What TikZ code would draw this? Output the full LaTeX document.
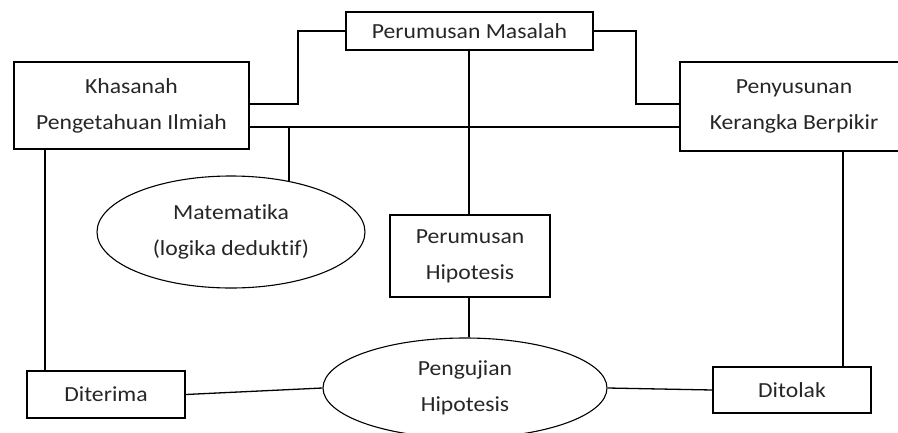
\documentclass[tikz,border=0pt]{standalone}
\usepackage{fontspec}
\setmainfont[FakeStretch=1.1,Ligatures={NoCommon}]{Carlito}
\usetikzlibrary{shapes.geometric}
\begin{document}
\begin{tikzpicture}[x=1pt,y=-1pt,
  every node/.style={font=\fontsize{21.5}{36}\selectfont, text=black!85, align=center, inner sep=0pt},
  boxnode/.style={draw, rectangle, line width=1.3pt},
  ellnode/.style={draw, ellipse, line width=1.1pt},
  conn/.style={line width=1.3pt}]
\useasboundingbox (0,0) rectangle (898,432);
\begin{scope}
\clip (0,0) rectangle (898,432);
\node[boxnode, minimum width=247pt, minimum height=38pt] (pm) at (469.5,31) {Perumusan Masalah};
\node[boxnode, minimum width=235pt, minimum height=87pt] (kh) at (131.5,105.5) {Khasanah\\Pengetahuan Ilmiah};
\node[boxnode, minimum width=228pt, minimum height=89pt] (ps) at (794,106.5) {Penyusunan\\Kerangka Berpikir};
\node[ellnode, minimum width=268pt, minimum height=112pt] (mat) at (231,232) {Matematika\\(logika deduktif)};
\node[boxnode, minimum width=160pt, minimum height=82pt] (ph) at (470,256) {Perumusan\\Hipotesis};
\node[ellnode, minimum width=284pt, minimum height=100pt] (pg) at (465,388) {Pengujian\\Hipotesis};
\node[boxnode, minimum width=158pt, minimum height=47pt] (dt) at (106,394.5) {Diterima};
\node[boxnode, minimum width=158pt, minimum height=46pt] (dl) at (792,390) {Ditolak};

\draw[conn] (pm.west) -- (298,31) -- (298,104) -- (kh.east |- 0,104);
\draw[conn] (pm.east) -- (636,31) -- (636,104) -- (ps.west |- 0,104);
\draw[conn] (kh.east |- 0,127) -- (ps.west |- 0,127);
\draw[conn] (289,127) -- (mat.41 -| 289,0);
\draw[conn] (pm.south -| 469,0) -- (ph.north -| 469,0);
\draw[conn] (ph.south -| 469,0) -- (pg.north -| 469,0);
\draw[conn] (kh.south -| 45,0) -- (dt.north -| 45,0);
\draw[conn] (ps.south -| 843,0) -- (dl.north -| 843,0);
\draw[conn] (dt.east) -- (pg.west);
\draw[conn] (pg.east) -- (dl.west);
\end{scope}
\end{tikzpicture}
\end{document}
